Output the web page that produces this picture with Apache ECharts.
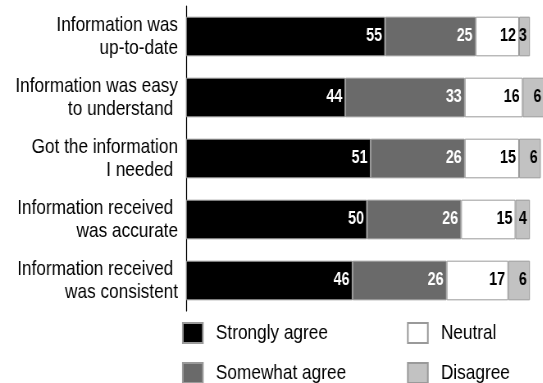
<!DOCTYPE html>
<html>
<head>
<meta charset="utf-8">
<script src="https://cdn.jsdelivr.net/npm/echarts@6/dist/echarts.min.js"></script>
<style>
  html, body { margin: 0; padding: 0; background: #fff; overflow: hidden; }
  /* Arial Narrow look: draw on a wider canvas and condense it horizontally */
  #chart {
    width: 662px;
    height: 383px;
    transform: scaleX(0.82);
    transform-origin: 0 0;
  }
</style>
</head>
<body>
<div id="chart"></div>
<script>
// Survey statements (top to bottom) and response shares in percent
const categories = [
  'Information was\nup-to-date',
  'Information was easy\nto understand ',
  'Got the information\nI needed ',
  'Information received \nwas accurate',
  'Information received \nwas consistent'
];
const stronglyAgree = [55, 44, 51, 50, 46];
const somewhatAgree = [25, 33, 26, 26, 26];
const neutral = [12, 16, 15, 15, 17];
const disagree = [3, 6, 6, 4, 6];

const SX = 0.82;                 // horizontal condensing factor
const px = v => v / SX;          // screen x-distance -> canvas x-distance
const FONT = '"Liberation Sans", Arial, sans-serif';

function makeSeries(name, values, fill, labelColor) {
  return {
    name: name,
    type: 'bar',
    stack: 'total',
    data: values,
    barCategoryGap: '35%',
    itemStyle: { color: fill, borderColor: '#9a9a9a', borderWidth: 1 },
    label: {
      show: true,
      position: 'insideRight',
      distance: px(3),
      color: labelColor,
      fontFamily: FONT,
      fontWeight: 'bold',
      fontSize: 17.5
    },
    emphasis: { disabled: true }
  };
}

function legendAt(name, left, top) {
  return {
    data: [name],
    left: px(left),
    top: top,
    padding: 0,
    icon: 'rect',
    itemWidth: px(20),
    itemHeight: 20,
    selectedMode: false,
    textStyle: {
      fontFamily: FONT,
      fontSize: 21,
      color: '#000',
      padding: [0, 0, 0, px(9)]
    }
  };
}

const chart = echarts.init(document.getElementById('chart'), null, { renderer: 'canvas' });
chart.setOption({
  animation: false,
  backgroundColor: '#fff',
  grid: {
    left: px(186), top: 6, width: px(362), height: 305,
    containLabel: false, outerBoundsMode: 'none'
  },
  xAxis: {
    type: 'value',
    min: 0,
    max: 100,
    show: false
  },
  yAxis: {
    type: 'category',
    data: categories,
    inverse: true,
    axisLine: { show: true, lineStyle: { color: '#000', width: px(1) } },
    axisTick: { show: false },
    axisLabel: {
      margin: px(8),
      color: '#000',
      fontFamily: FONT,
      fontSize: 21,
      lineHeight: 23,
      align: 'right'
    }
  },
  legend: [
    legendAt('Strongly agree', 182, 322),
    legendAt('Neutral', 407, 322),
    legendAt('Somewhat agree', 182, 362),
    legendAt('Disagree', 407, 362)
  ],
  series: [
    makeSeries('Strongly agree', stronglyAgree, '#000000', '#ffffff'),
    makeSeries('Somewhat agree', somewhatAgree, '#6a6a6a', '#ffffff'),
    makeSeries('Neutral', neutral, '#ffffff', '#000000'),
    makeSeries('Disagree', disagree, '#c2c2c2', '#000000')
  ]
});
</script>
</body>
</html>
